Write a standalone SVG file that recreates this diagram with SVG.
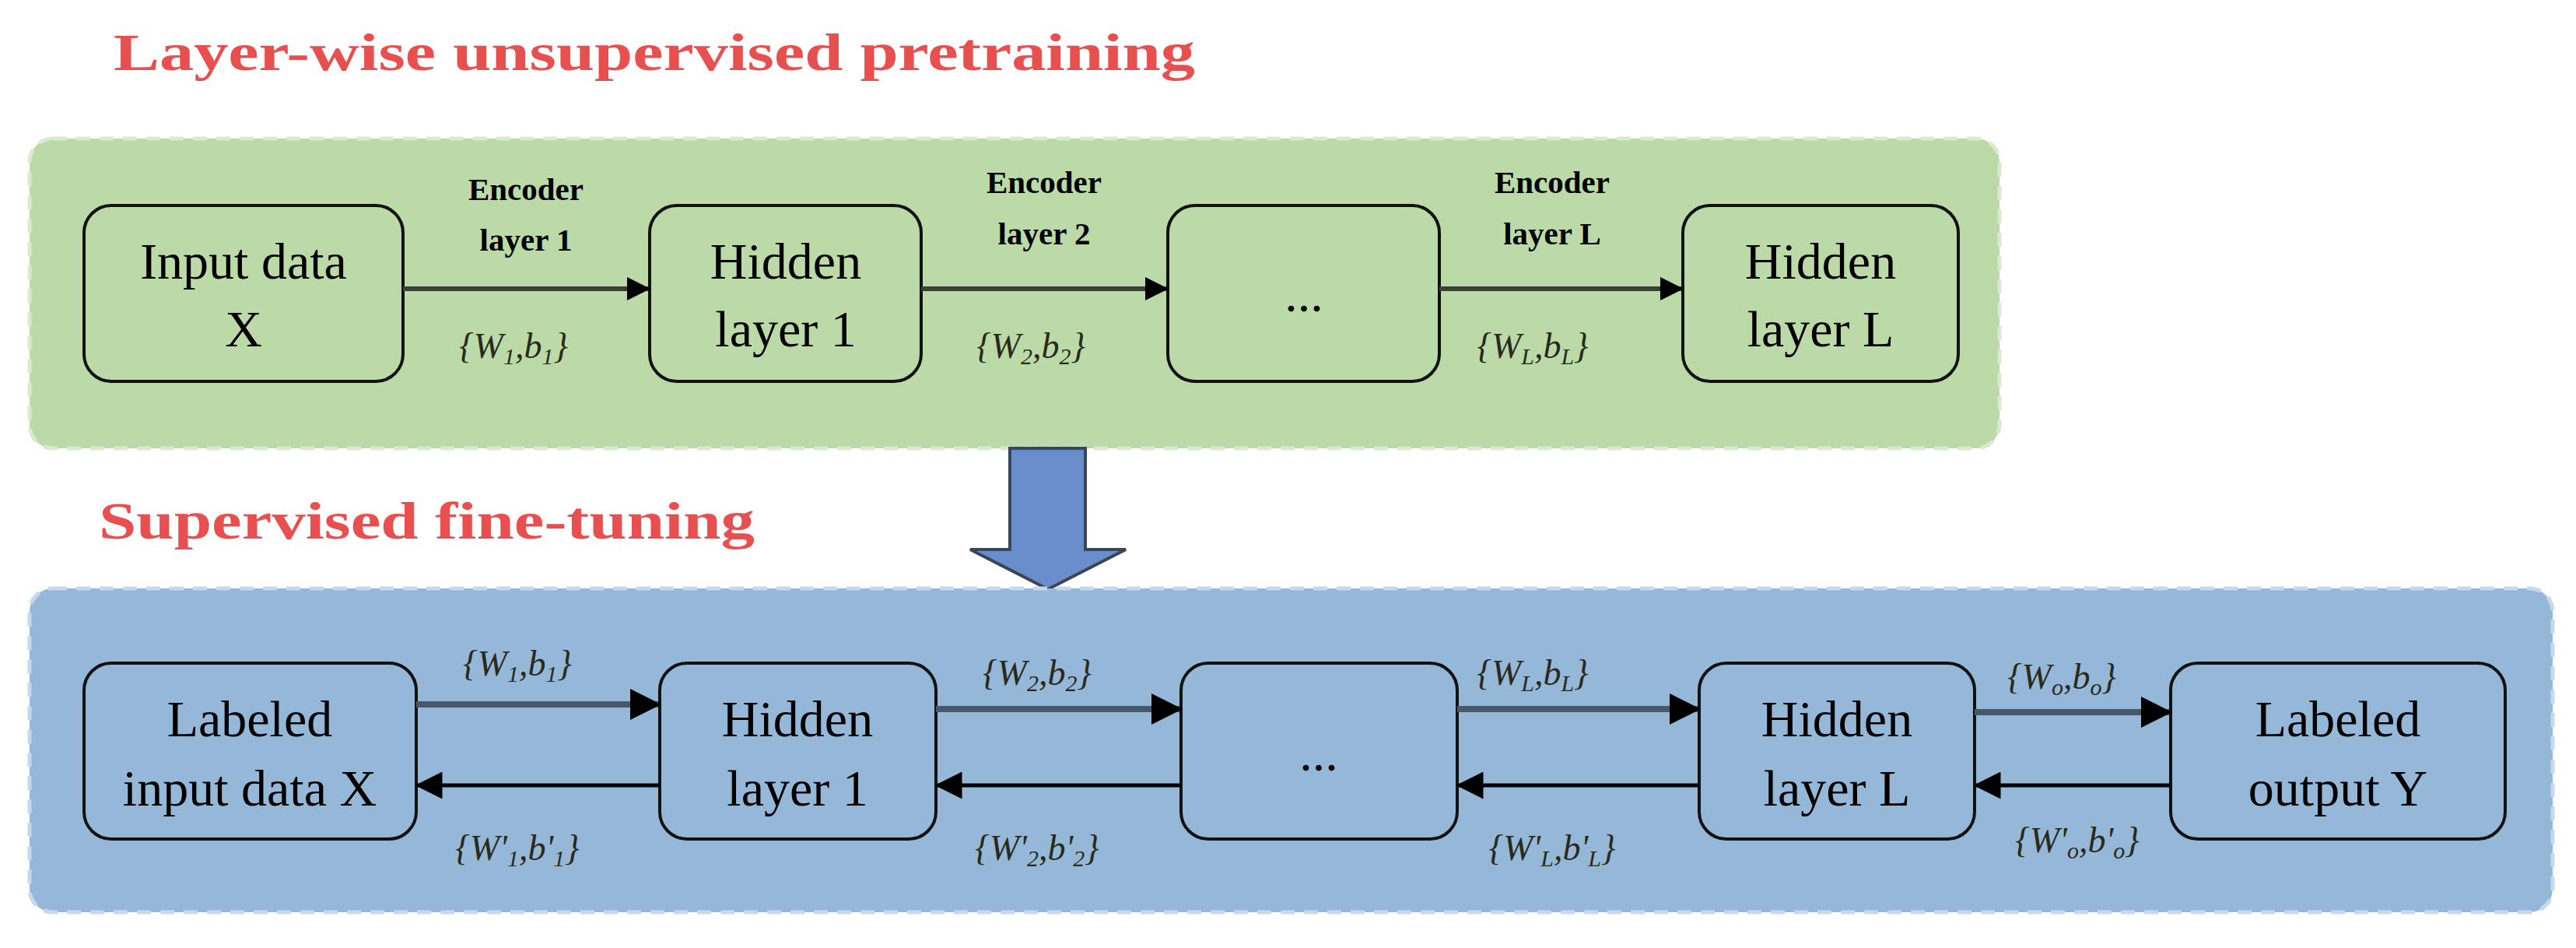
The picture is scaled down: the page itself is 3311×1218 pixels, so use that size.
<svg xmlns="http://www.w3.org/2000/svg" width="3311" height="1218" viewBox="0 0 3311 1218">
<defs>
<marker id="ah" viewBox="0 0 10 10" refX="9" refY="5" markerWidth="5" markerHeight="5" markerUnits="strokeWidth" orient="auto"><path d="M0,0 L10,5 L0,10 z" fill="#000"/></marker>
<marker id="ahb" viewBox="0 0 10 10" refX="9" refY="5" markerWidth="7" markerHeight="7" markerUnits="strokeWidth" orient="auto"><path d="M0,0 L10,5 L0,10 z" fill="#000"/></marker>
<style>
.title{font-family:"Liberation Serif",serif;font-weight:bold;fill:#E8504F;font-size:68px}
.node{fill:none;stroke:#111;stroke-width:4}
.nt{font-family:"Liberation Serif",serif;font-size:66px;fill:#000;text-anchor:middle}
.enc{font-family:"Liberation Serif",serif;font-weight:bold;font-size:41px;fill:#000;text-anchor:middle}
.w{font-family:"Liberation Serif",serif;font-style:italic;font-size:46px;fill:#2a2a1a;text-anchor:middle}
.fw{stroke:#3a3f3a;stroke-width:6;fill:none;marker-end:url(#ah)}
.fb{stroke:#46586a;stroke-width:8;fill:none;marker-end:url(#ah)}
.bk{stroke:#000;stroke-width:5;fill:none;marker-end:url(#ahb)}
</style>
</defs>
<rect width="3311" height="1218" fill="#fff"/>
<text class="title" x="146" y="90" textLength="1390" lengthAdjust="spacingAndGlyphs">Layer-wise unsupervised pretraining</text>
<rect id="pretrain" x="38" y="178" width="2532" height="398" rx="30" fill="#BBDAA8" stroke="#d8ead0" stroke-width="5" stroke-dasharray="18,12"/>
<path id="bigarrow" d="M1298,576 L1395,576 L1395,706 L1447,706 L1347,757 L1247,706 L1298,706 z" fill="#6A8DCB" stroke="#3a4655" stroke-width="4"/>
<text class="title" x="127" y="692" textLength="843" lengthAdjust="spacingAndGlyphs">Supervised fine-tuning</text>
<rect id="finetune" x="38" y="756" width="3243" height="416" rx="30" fill="#95B8D8" stroke="#c8d6f0" stroke-width="5" stroke-dasharray="18,12"/>

<g id="g-input"><rect class="node" x="108" y="264" width="410" height="226" rx="35"/><text class="nt" x="313" y="358">Input data</text><text class="nt" x="313" y="445">X</text></g>
<g id="g-h1"><rect class="node" x="835" y="264" width="349" height="226" rx="35"/><text class="nt" x="1010" y="358">Hidden</text><text class="nt" x="1010" y="445">layer 1</text></g>
<g id="g-dots"><rect class="node" x="1501" y="264" width="349" height="226" rx="35"/><text class="nt" x="1676" y="400">...</text></g>
<g id="g-hL"><rect class="node" x="2163" y="264" width="354" height="226" rx="35"/><text class="nt" x="2340" y="358">Hidden</text><text class="nt" x="2340" y="445">layer L</text></g>

<g id="b-input"><rect class="node" x="108" y="852" width="427" height="226" rx="35"/><text class="nt" x="321" y="946">Labeled</text><text class="nt" x="321" y="1035">input data X</text></g>
<g id="b-h1"><rect class="node" x="848" y="852" width="355" height="226" rx="35"/><text class="nt" x="1025" y="946">Hidden</text><text class="nt" x="1025" y="1035">layer 1</text></g>
<g id="b-dots"><rect class="node" x="1518" y="852" width="355" height="226" rx="35"/><text class="nt" x="1695" y="990">...</text></g>
<g id="b-hL"><rect class="node" x="2184" y="852" width="354" height="226" rx="35"/><text class="nt" x="2361" y="946">Hidden</text><text class="nt" x="2361" y="1035">layer L</text></g>
<g id="b-out"><rect class="node" x="2790" y="852" width="430" height="226" rx="35"/><text class="nt" x="3005" y="946">Labeled</text><text class="nt" x="3005" y="1035">output Y</text></g>

<g id="connectors">
<line class="fw" x1="518" y1="371" x2="833" y2="371"/>
<line class="fw" x1="1184" y1="371" x2="1499" y2="371"/>
<line class="fw" x1="1850" y1="371" x2="2161" y2="371"/>
<line class="fb" x1="535" y1="905" x2="846" y2="905"/>
<line class="fb" x1="1203" y1="911" x2="1516" y2="911"/>
<line class="fb" x1="1873" y1="911" x2="2182" y2="911"/>
<line class="fb" x1="2538" y1="915" x2="2788" y2="915"/>
<line class="bk" x1="848" y1="1009" x2="537" y2="1009"/>
<line class="bk" x1="1518" y1="1009" x2="1205" y2="1009"/>
<line class="bk" x1="2184" y1="1009" x2="1875" y2="1009"/>
<line class="bk" x1="2790" y1="1009" x2="2540" y2="1009"/>
</g>
<g id="labels">
<text class="enc" x="676" y="257">Encoder</text><text class="enc" x="676" y="322">layer 1</text>
<text class="enc" x="1342" y="248">Encoder</text><text class="enc" x="1342" y="314">layer 2</text>
<text class="enc" x="1995" y="248">Encoder</text><text class="enc" x="1995" y="314">layer L</text>
<text class="w" x="660" y="460">{W<tspan font-size="30" dy="8">1</tspan><tspan dy="-8">,b</tspan><tspan font-size="30" dy="8">1</tspan><tspan dy="-8">}</tspan></text>
<text class="w" x="1325" y="460">{W<tspan font-size="30" dy="8">2</tspan><tspan dy="-8">,b</tspan><tspan font-size="30" dy="8">2</tspan><tspan dy="-8">}</tspan></text>
<text class="w" x="1970" y="460">{W<tspan font-size="30" dy="8">L</tspan><tspan dy="-8">,b</tspan><tspan font-size="30" dy="8">L</tspan><tspan dy="-8">}</tspan></text>
<text class="w" x="665" y="868">{W<tspan font-size="30" dy="8">1</tspan><tspan dy="-8">,b</tspan><tspan font-size="30" dy="8">1</tspan><tspan dy="-8">}</tspan></text>
<text class="w" x="1333" y="880">{W<tspan font-size="30" dy="8">2</tspan><tspan dy="-8">,b</tspan><tspan font-size="30" dy="8">2</tspan><tspan dy="-8">}</tspan></text>
<text class="w" x="1970" y="880">{W<tspan font-size="30" dy="8">L</tspan><tspan dy="-8">,b</tspan><tspan font-size="30" dy="8">L</tspan><tspan dy="-8">}</tspan></text>
<text class="w" x="2650" y="885">{W<tspan font-size="30" dy="8">o</tspan><tspan dy="-8">,b</tspan><tspan font-size="30" dy="8">o</tspan><tspan dy="-8">}</tspan></text>
<text class="w" x="665" y="1105">{W'<tspan font-size="30" dy="8">1</tspan><tspan dy="-8">,b'</tspan><tspan font-size="30" dy="8">1</tspan><tspan dy="-8">}</tspan></text>
<text class="w" x="1333" y="1105">{W'<tspan font-size="30" dy="8">2</tspan><tspan dy="-8">,b'</tspan><tspan font-size="30" dy="8">2</tspan><tspan dy="-8">}</tspan></text>
<text class="w" x="1995" y="1105">{W'<tspan font-size="30" dy="8">L</tspan><tspan dy="-8">,b'</tspan><tspan font-size="30" dy="8">L</tspan><tspan dy="-8">}</tspan></text>
<text class="w" x="2670" y="1095">{W'<tspan font-size="30" dy="8">o</tspan><tspan dy="-8">,b'</tspan><tspan font-size="30" dy="8">o</tspan><tspan dy="-8">}</tspan></text>
</g>
</svg>
